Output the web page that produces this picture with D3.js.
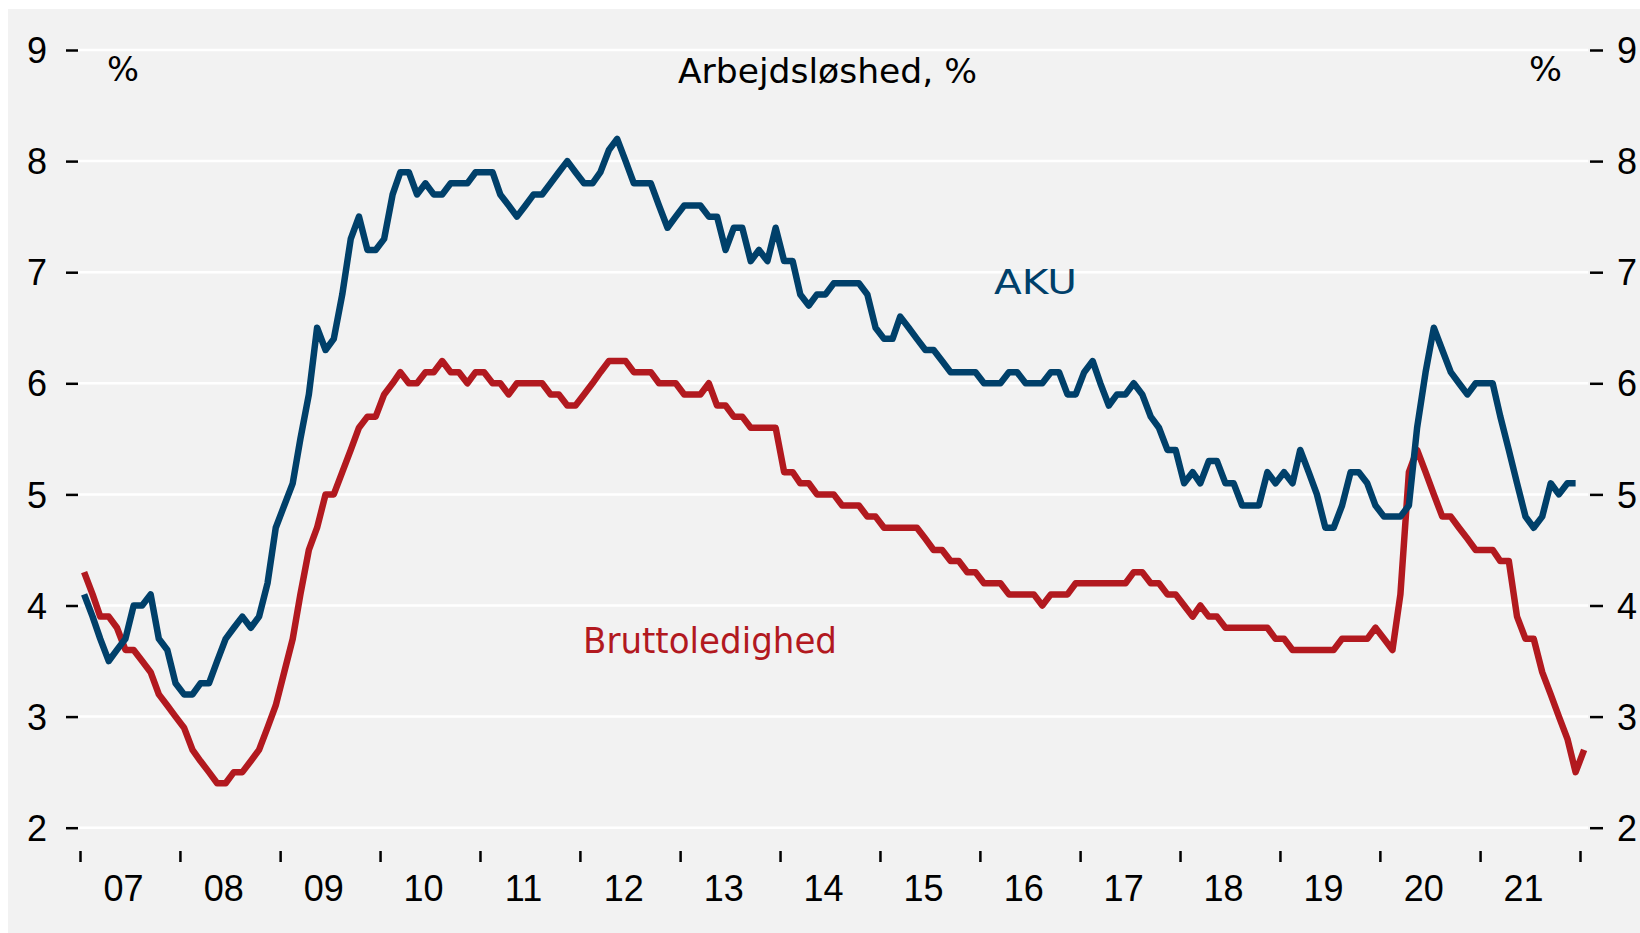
<!DOCTYPE html>
<html>
<head>
<meta charset="utf-8">
<script src="https://cdn.jsdelivr.net/npm/d3@7"></script>
<style>
  html, body { margin: 0; padding: 0; background: #ffffff; }
  svg { display: block; }
</style>
</head>
<body>
<svg id="chart" width="1640" height="933"></svg>
<script>
// ---- Data (monthly, starting January 2007) ----
const startYear = 2007;
const akuValues = [
  4.1, 3.9, 3.7, 3.5, 3.6, 3.7, 4.0, 4.0, 4.1, 3.7, 3.6, 3.3,
  3.2, 3.2, 3.3, 3.3, 3.5, 3.7, 3.8, 3.9, 3.8, 3.9, 4.2, 4.7,
  4.9, 5.1, 5.5, 5.9, 6.5, 6.3, 6.4, 6.8, 7.3, 7.5, 7.2, 7.2,
  7.3, 7.7, 7.9, 7.9, 7.7, 7.8, 7.7, 7.7, 7.8, 7.8, 7.8, 7.9,
  7.9, 7.9, 7.7, 7.6, 7.5, 7.6, 7.7, 7.7, 7.8, 7.9, 8.0, 7.9,
  7.8, 7.8, 7.9, 8.1, 8.2, 8.0, 7.8, 7.8, 7.8, 7.6, 7.4, 7.5,
  7.6, 7.6, 7.6, 7.5, 7.5, 7.2, 7.4, 7.4, 7.1, 7.2, 7.1, 7.4,
  7.1, 7.1, 6.8, 6.7, 6.8, 6.8, 6.9, 6.9, 6.9, 6.9, 6.8, 6.5,
  6.4, 6.4, 6.6, 6.5, 6.4, 6.3, 6.3, 6.2, 6.1, 6.1, 6.1, 6.1,
  6.0, 6.0, 6.0, 6.1, 6.1, 6.0, 6.0, 6.0, 6.1, 6.1, 5.9, 5.9,
  6.1, 6.2, 6.0, 5.8, 5.9, 5.9, 6.0, 5.9, 5.7, 5.6, 5.4, 5.4,
  5.1, 5.2, 5.1, 5.3, 5.3, 5.1, 5.1, 4.9, 4.9, 4.9, 5.2, 5.1,
  5.2, 5.1, 5.4, 5.2, 5.0, 4.7, 4.7, 4.9, 5.2, 5.2, 5.1, 4.9,
  4.8, 4.8, 4.8, 4.9, 5.6, 6.1, 6.5, 6.3, 6.1, 6.0, 5.9, 6.0,
  6.0, 6.0, 5.7, 5.4, 5.1, 4.8, 4.7, 4.8, 5.1, 5.0, 5.1, 5.1
];
const bruttoValues = [
  4.3, 4.1, 3.9, 3.9, 3.8, 3.6, 3.6, 3.5, 3.4, 3.2, 3.1, 3.0,
  2.9, 2.7, 2.6, 2.5, 2.4, 2.4, 2.5, 2.5, 2.6, 2.7, 2.9, 3.1,
  3.4, 3.7, 4.1, 4.5, 4.7, 5.0, 5.0, 5.2, 5.4, 5.6, 5.7, 5.7,
  5.9, 6.0, 6.1, 6.0, 6.0, 6.1, 6.1, 6.2, 6.1, 6.1, 6.0, 6.1,
  6.1, 6.0, 6.0, 5.9, 6.0, 6.0, 6.0, 6.0, 5.9, 5.9, 5.8, 5.8,
  5.9, 6.0, 6.1, 6.2, 6.2, 6.2, 6.1, 6.1, 6.1, 6.0, 6.0, 6.0,
  5.9, 5.9, 5.9, 6.0, 5.8, 5.8, 5.7, 5.7, 5.6, 5.6, 5.6, 5.6,
  5.2, 5.2, 5.1, 5.1, 5.0, 5.0, 5.0, 4.9, 4.9, 4.9, 4.8, 4.8,
  4.7, 4.7, 4.7, 4.7, 4.7, 4.6, 4.5, 4.5, 4.4, 4.4, 4.3, 4.3,
  4.2, 4.2, 4.2, 4.1, 4.1, 4.1, 4.1, 4.0, 4.1, 4.1, 4.1, 4.2,
  4.2, 4.2, 4.2, 4.2, 4.2, 4.2, 4.3, 4.3, 4.2, 4.2, 4.1, 4.1,
  4.0, 3.9, 4.0, 3.9, 3.9, 3.8, 3.8, 3.8, 3.8, 3.8, 3.8, 3.7,
  3.7, 3.6, 3.6, 3.6, 3.6, 3.6, 3.6, 3.7, 3.7, 3.7, 3.7, 3.8,
  3.7, 3.6, 4.1, 5.2, 5.4, 5.2, 5.0, 4.8, 4.8, 4.7, 4.6, 4.5,
  4.5, 4.5, 4.4, 4.4, 3.9, 3.7, 3.7, 3.4, 3.2, 3.0, 2.8, 2.5,
  2.7
];
const yTicks = [2, 3, 4, 5, 6, 7, 8, 9];
const yearLabels = ["07","08","09","10","11","12","13","14","15","16","17","18","19","20","21"];
const seriesNames = ["AKU", "Bruttoledighed"];
const titleText = "Arbejdsløshed, %";
const unitText = "%";

// ---- Layout ----
const svg = d3.select("#chart");
const W = 1640, H = 933;
const plotLeft = 78, plotRight = 1588, plotTop = 50, plotBottom = 827.7;
const colors = { aku: "#00406a", brutto: "#b2191f", grid: "#ffffff", bg: "#f2f2f2" };

const x = d3.scaleTime()
  .domain([new Date(startYear, 0, 1), new Date(startYear + yearLabels.length, 0, 1)])
  .range([80, 1580]);
const y = d3.scaleLinear().domain([2, 9]).range([plotBottom, plotTop]);

const monthDate = i => new Date(startYear, i, 16);

// background panel
svg.append("rect").attr("x", 8).attr("y", 9).attr("width", W - 8).attr("height", H - 9)
  .attr("fill", colors.bg);

// gridlines
svg.append("g").selectAll("line").data(yTicks).join("line")
  .attr("x1", plotLeft).attr("x2", plotRight)
  .attr("y1", d => y(d)).attr("y2", d => y(d))
  .attr("stroke", colors.grid).attr("stroke-width", 2.5);

const fontAxis = "'Liberation Sans', Arial, Helvetica, sans-serif";

// left axis
const leftAxis = d3.axisLeft(y).tickValues(yTicks).tickSize(12).tickPadding(19).tickFormat(d3.format("d"));
const gl = svg.append("g").attr("transform", `translate(${plotLeft},0)`).call(leftAxis);
gl.select(".domain").remove();
gl.selectAll(".tick line").attr("stroke", "#000").attr("stroke-width", 2.5);
gl.selectAll(".tick text").attr("font-family", fontAxis).attr("font-size", 36).attr("fill", "#000").attr("dy", "0.35em");

// right axis
const rightAxis = d3.axisRight(y).tickValues(yTicks).tickSize(13).tickPadding(14).tickFormat(d3.format("d"));
const gr = svg.append("g").attr("transform", `translate(1590,0)`).call(rightAxis);
gr.select(".domain").remove();
gr.selectAll(".tick line").attr("stroke", "#000").attr("stroke-width", 2.5);
gr.selectAll(".tick text").attr("font-family", fontAxis).attr("font-size", 36).attr("fill", "#000").attr("dy", "0.35em");

// bottom axis: ticks at year boundaries, labels mid-year
const yearStarts = d3.range(yearLabels.length + 1).map(k => new Date(startYear + k, 0, 1));
const bottomAxis = d3.axisBottom(x).tickValues(yearStarts).tickSize(11).tickFormat("");
const gb = svg.append("g").attr("transform", `translate(0,851)`).call(bottomAxis);
gb.select(".domain").remove();
gb.selectAll(".tick line").attr("stroke", "#000").attr("stroke-width", 2.5);

svg.append("g").selectAll("text").data(yearLabels).join("text")
  .attr("x", (d, k) => x(new Date(startYear + k, 6, 1)) - 6)
  .attr("y", 901)
  .attr("text-anchor", "middle")
  .attr("font-family", fontAxis).attr("font-size", 36).attr("fill", "#000")
  .text(d => d);

// lines
const line = d3.line().x((d, i) => x(monthDate(i))).y(d => y(d));
svg.append("path").datum(bruttoValues).attr("d", line)
  .attr("fill", "none").attr("stroke", colors.brutto).attr("stroke-width", 6.5)
  .attr("stroke-linejoin", "round");
svg.append("path").datum(akuValues).attr("d", line)
  .attr("fill", "none").attr("stroke", colors.aku).attr("stroke-width", 6.5)
  .attr("stroke-linejoin", "round");

// titles and labels
const fontTitle = "'DejaVu Sans', 'Liberation Sans', Arial, sans-serif";
svg.append("text").attr("x", 678).attr("y", 83)
  .attr("font-family", fontTitle).attr("font-size", 34).attr("font-weight", 500).attr("fill", "#000")
  .attr("textLength", 299).attr("lengthAdjust", "spacingAndGlyphs")
  .text(titleText);
svg.append("text").attr("x", 107).attr("y", 81)
  .attr("font-family", fontTitle).attr("font-size", 34).attr("fill", "#000")
  .attr("textLength", 32).attr("lengthAdjust", "spacingAndGlyphs")
  .text(unitText);
svg.append("text").attr("x", 1529).attr("y", 81)
  .attr("font-family", fontTitle).attr("font-size", 34).attr("fill", "#000")
  .attr("textLength", 33).attr("lengthAdjust", "spacingAndGlyphs")
  .text(unitText);
svg.append("text").attr("x", 994).attr("y", 294)
  .attr("font-family", fontTitle).attr("font-size", 33).attr("fill", colors.aku)
  .attr("textLength", 83).attr("lengthAdjust", "spacingAndGlyphs")
  .text(seriesNames[0]);
svg.append("text").attr("x", 583).attr("y", 653)
  .attr("font-family", fontTitle).attr("font-size", 35).attr("fill", colors.brutto)
  .attr("textLength", 254).attr("lengthAdjust", "spacingAndGlyphs")
  .text(seriesNames[1]);
</script>
</body>
</html>
